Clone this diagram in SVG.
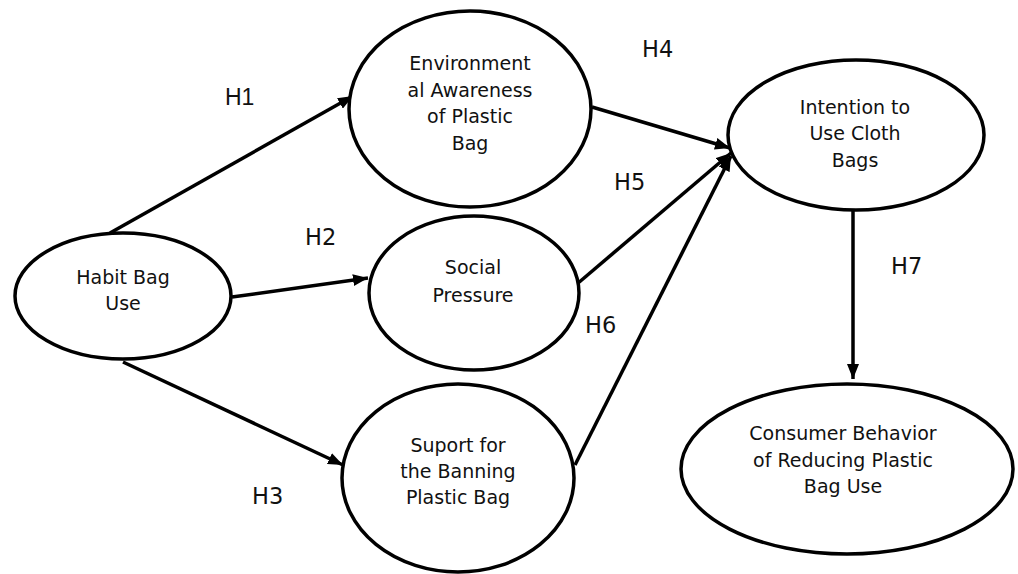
<svg xmlns="http://www.w3.org/2000/svg" width="1018" height="574" viewBox="0 0 1018 574">
<style>
.node{fill:#fff;stroke:#000;stroke-width:3.5}
.t{font-family:"DejaVu Sans",Verdana,sans-serif;font-size:19px;fill:#111;text-anchor:middle}
.h{font-family:"DejaVu Sans",Verdana,sans-serif;font-size:22.5px;fill:#111}
.h1{font-family:"Liberation Sans",Arial,sans-serif;font-size:23px;fill:#111}
.c{stroke:#000;stroke-width:3.5;fill:none;marker-end:url(#ah)}
</style>
<defs>
<marker id="ah" markerUnits="userSpaceOnUse" markerWidth="16" markerHeight="12" refX="15" refY="6" orient="auto">
<path d="M0,0 L15,6 L0,12 z" fill="#000"/>
</marker>
</defs>
<rect width="1018" height="574" fill="#fff"/>
<g id="connectors">
<line class="c" x1="110" y1="233" x2="353" y2="96"/>
<line class="c" x1="232" y1="297" x2="368" y2="278"/>
<line class="c" x1="123" y1="362" x2="343" y2="465"/>
<line class="c" x1="592" y1="107" x2="730" y2="148"/>
<line class="c" x1="577" y1="284" x2="731" y2="153"/>
<line class="c" x1="575" y1="465" x2="731" y2="156"/>
<line class="c" x1="853" y1="210" x2="853" y2="379"/>
<rect x="657" y="206" width="5" height="4" fill="#fff" transform="rotate(-40 659 208)"/>
</g>
<g id="habit">
<ellipse class="node" cx="123" cy="296" rx="108" ry="63"/>
<text class="t" x="123" y="284">Habit Bag</text>
<text class="t" x="123" y="310">Use</text>
</g>
<g id="environmental">
<ellipse class="node" cx="470" cy="109" rx="121" ry="98"/>
<text class="t" x="470" y="70">Environment</text>
<text class="t" x="470" y="96.5">al Awareness</text>
<text class="t" x="470" y="123">of Plastic</text>
<text class="t" x="470" y="149.5">Bag</text>
</g>
<g id="social">
<ellipse class="node" cx="474" cy="293" rx="105" ry="77"/>
<text class="t" x="473" y="274">Social</text>
<text class="t" x="473" y="302">Pressure</text>
</g>
<g id="support">
<ellipse class="node" cx="458" cy="478" rx="116" ry="94"/>
<text class="t" x="458" y="452">Suport for</text>
<text class="t" x="458" y="478">the Banning</text>
<text class="t" x="458" y="504">Plastic Bag</text>
</g>
<g id="intention">
<ellipse class="node" cx="856" cy="135" rx="128" ry="75"/>
<text class="t" x="855" y="114">Intention to</text>
<text class="t" x="855" y="140">Use Cloth</text>
<text class="t" x="855" y="166.5">Bags</text>
</g>
<g id="consumer">
<ellipse class="node" cx="847" cy="469" rx="166" ry="85"/>
<text class="t" x="843" y="440">Consumer Behavior</text>
<text class="t" x="843" y="466.5">of Reducing Plastic</text>
<text class="t" x="843" y="492.5">Bag Use</text>
</g>
<g id="labels">
<text class="h1" x="225" y="105">H1</text>
<text class="h" x="305" y="245">H2</text>
<text class="h" x="252" y="504">H3</text>
<text class="h" x="642" y="57">H4</text>
<text class="h" x="614" y="190">H5</text>
<text class="h" x="585" y="333">H6</text>
<text class="h" x="891" y="274">H7</text>
</g>
</svg>
